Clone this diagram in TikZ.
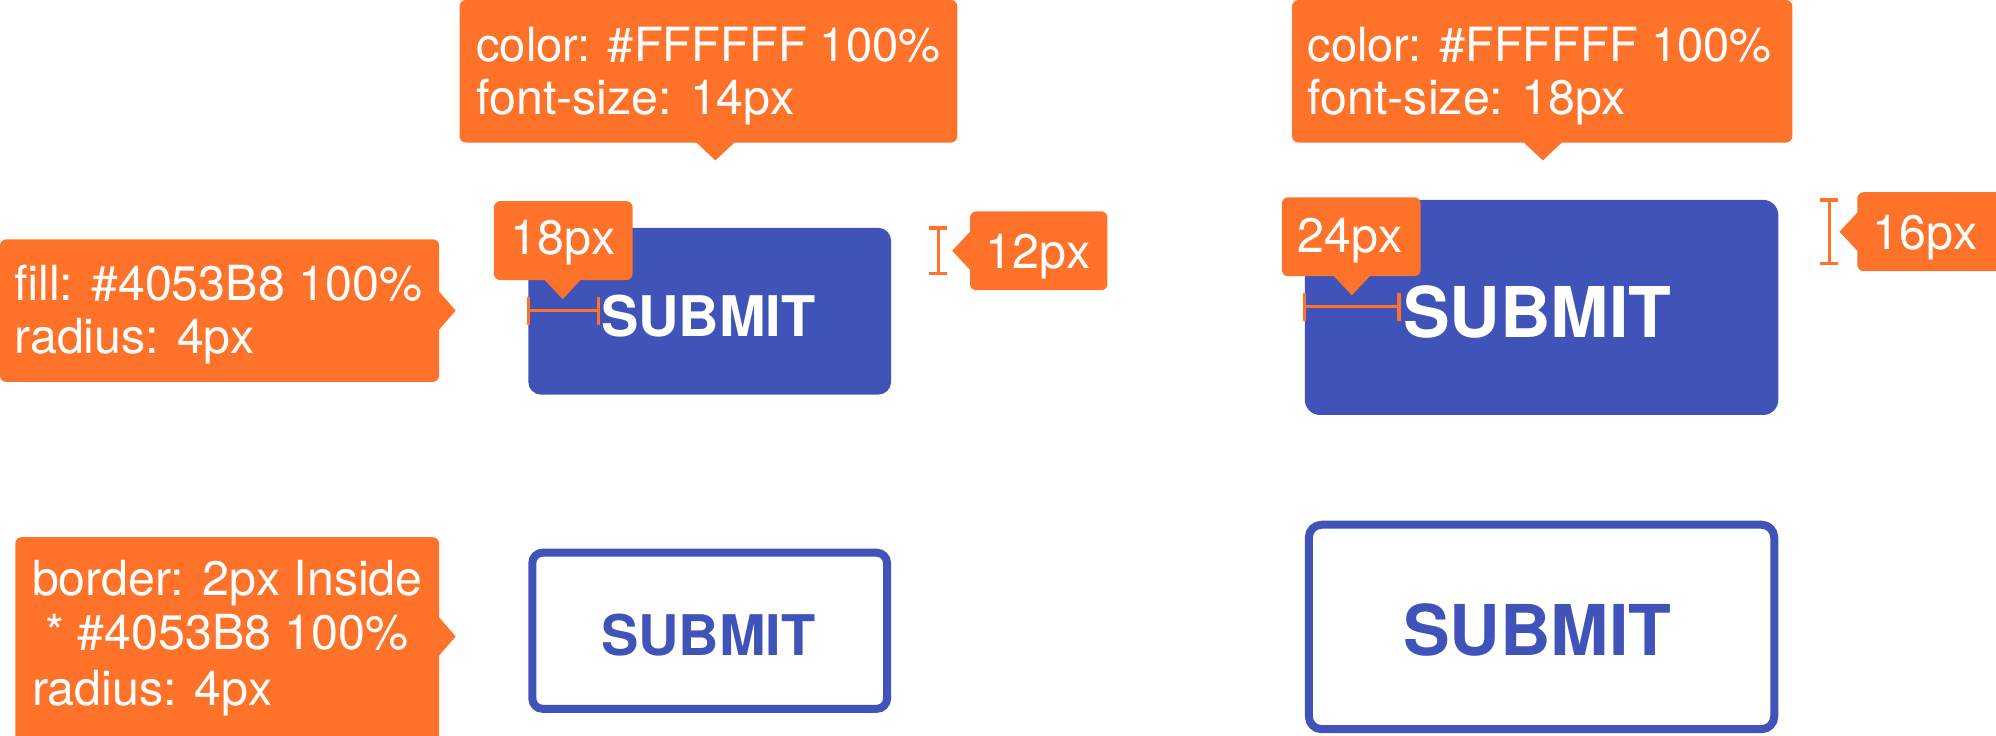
\documentclass[tikz,border=0pt]{standalone}
\usepackage{fontspec}
\setmainfont{TeX Gyre Heros}
\definecolor{mo}{HTML}{FF722A}
\definecolor{bb}{HTML}{4053B8}
\begin{document}
\begin{tikzpicture}[x=1pt,y=-1pt,
  lab/.style={text=white, font=\fontsize{38}{43}\selectfont, anchor=base west, inner sep=0},
  labn/.style={lab, font=\fontsize{37}{43}\selectfont},
  box/.style={fill=mo, rounded corners=5pt},
  btnS/.style={font=\fontsize{44}{50}\selectfont\bfseries, anchor=base west, inner sep=0},
  btnL/.style={font=\fontsize{55}{60}\selectfont\bfseries, anchor=base west, inner sep=0},
  dim/.style={draw=mo, line width=2.6pt}]
\useasboundingbox (0,0) rectangle (1568,578);

% ---------- left column ----------
% filled button
\fill[bb, rounded corners=10pt] (415,179) rectangle (700,310);
\node[btnS, text=white] (s1) at (472,264) {SUBMIT};
% outline button
\draw[bb, line width=6.3pt, rounded corners=8pt] (418.2,434.2) rectangle (696.8,556.8);
\node[btnS, text=bb] (s2) at (472,515) {SUBMIT};

% top callout
\fill[box] (361,0) rectangle (752,112);
\fill[mo] (546,111) -- (562,126) -- (578,111) -- cycle;
\node[labn] (t1a) at (374,48) {color: \#FFFFFF 100\%};
\node[lab] (t1b) at (374,90) {font-size: 14px};

% 18px callout
\fill[box] (388,158) rectangle (497,220);
\fill[mo] (427,219) -- (442,235) -- (457,219) -- cycle;
\node[lab] (p18) at (401,200) {18px};
\draw[dim] (415,244) -- (470,244);
\draw[dim] (415,233) -- (415,255);
\draw[dim] (470,233) -- (470,255);

% 12px callout
\draw[dim] (737,179) -- (737,215);
\draw[dim] (730,179) -- (744,179);
\draw[dim] (730,215) -- (744,215);
\fill[box] (762,166) rectangle (870,228);
\fill[mo] (763,181) -- (748,197) -- (763,213) -- cycle;
\node[lab] (p12) at (774,211) {12px};

% fill callout
\fill[box] (0,188) rectangle (345,300);
\fill[mo] (344,228) -- (358,244) -- (344,260) -- cycle;
\node[lab] (f1) at (11,236) {fill: \#4053B8 100\%};
\node[lab] (f2) at (11,278) {radius: 4px};

% border callout
\fill[box] (12,422) rectangle (345,590);
\fill[mo] (344,484) -- (358,500) -- (344,516) -- cycle;
\node[lab] (g1) at (25,468) {border: 2px Inside};
\node[lab] (g2) at (25,510) {\ * \#4053B8 100\%};
\node[lab] (g3) at (25,554) {radius: 4px};

% ---------- right column ----------
\fill[bb, rounded corners=12pt] (1025,157) rectangle (1397,326);
\node[btnL, text=white] (s3) at (1102,265) {SUBMIT};
\draw[bb, line width=6.3pt, rounded corners=10pt] (1028.2,412.2) rectangle (1393.8,572.8);
\node[btnL, text=bb] (s4) at (1102,515) {SUBMIT};

% top callout
\fill[box] (1015,0) rectangle (1408,112);
\fill[mo] (1196,111) -- (1212,126) -- (1228,111) -- cycle;
\node[labn] (t2a) at (1027,48) {color: \#FFFFFF 100\%};
\node[lab] (t2b) at (1027,90) {font-size: 18px};

% 24px callout
\fill[box] (1007,155) rectangle (1116,217);
\fill[mo] (1047,216) -- (1062,232) -- (1077,216) -- cycle;
\node[lab] (p24) at (1019,198) {24px};
\draw[dim] (1025,241) -- (1099,241);
\draw[dim] (1025,230) -- (1025,252);
\draw[dim] (1099,230) -- (1099,252);

% 16px callout
\draw[dim] (1437,157) -- (1437,207);
\draw[dim] (1430,157) -- (1444,157);
\draw[dim] (1430,207) -- (1444,207);
\fill[box] (1459,151) rectangle (1575,213);
\fill[mo] (1460,166) -- (1445,182) -- (1460,198) -- cycle;
\node[lab] (p16) at (1471,196) {16px};
\end{tikzpicture}
\end{document}
